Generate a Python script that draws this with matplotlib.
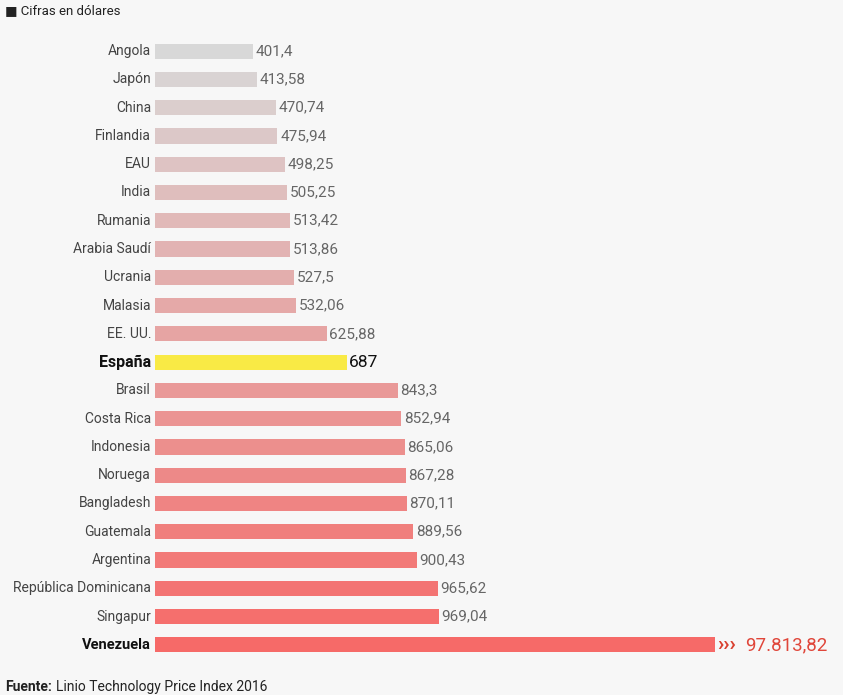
import matplotlib.pyplot as plt
import matplotlib.colors as mcolors
import numpy as np

paises = ["Angola", "Japón", "China", "Finlandia", "EAU", "India", "Rumania",
          "Arabia Saudí", "Ucrania", "Malasia", "EE. UU.", "España", "Brasil",
          "Costa Rica", "Indonesia", "Noruega", "Bangladesh", "Guatemala",
          "Argentina", "República Dominicana", "Singapur", "Venezuela"]
precios = [401.4, 413.58, 470.74, 475.94, 498.25, 505.25, 513.42, 513.86,
           527.5, 532.06, 625.88, 687, 843.3, 852.94, 865.06, 867.28, 870.11,
           889.56, 900.43, 965.62, 969.04, 97813.82]
etiquetas = ["401,4", "413,58", "470,74", "475,94", "498,25", "505,25",
             "513,42", "513,86", "527,5", "532,06", "625,88", "687", "843,3",
             "852,94", "865,06", "867,28", "870,11", "889,56", "900,43",
             "965,62", "969,04", "97.813,82"]

plt.rcParams['font.family'] = ['Roboto', 'DejaVu Sans']

W, H = 843, 695
fig = plt.figure(figsize=(W / 100, H / 100), dpi=100)
fig.patch.set_facecolor("#f7f7f7")

# axes placed in pixel terms: bars start at x=155, clipped at x=715
left, right, top, bottom = 155, 715, 37, 659
ax = fig.add_axes([left / W, 1 - bottom / H, (right - left) / W, (bottom - top) / H])
ax.set_facecolor("none")
base = 102.2
escala = 0.3277  # px per dollar
ax.set_xlim(base, base + (right - left) / escala)
ax.set_ylim(len(paises) - 0.5, -0.5)
ax.axis("off")

c0 = np.array(mcolors.to_rgb("#d8d8d8"))
c1 = np.array(mcolors.to_rgb("#f66a68"))
n = len(paises)
y = np.arange(n)
colores = []
for i, p in enumerate(paises):
    if p == "España":
        colores.append("#f9ea45")
    else:
        t = i / (n - 1)
        colores.append(tuple(c0 + (c1 - c0) * t))

ax.barh(y, [p - base for p in precios], left=base, height=0.54, color=colores)

for i, (p, v, lab) in enumerate(zip(paises, precios, etiquetas)):
    if p == "España":
        ax.text(base - 12, i, p, ha="right", va="center", fontsize=11.5,
                fontweight="bold", color="#111111")
        ax.text(v + 8, i, lab, ha="left", va="center", fontsize=12.5, color="#111111")
    elif p == "Venezuela":
        ax.text(base - 12, i, p, ha="right", va="center", fontsize=10.5,
                fontweight="bold", color="#111111")
        ax.text(1.003, i, "›››", transform=ax.get_yaxis_transform(), ha="left",
                va="center", fontsize=15, fontweight="bold", color="#d9402f",
                clip_on=False)
        ax.text(1.054, i, lab, transform=ax.get_yaxis_transform(), ha="left",
                va="center", fontsize=13.5, color="#e0463a", clip_on=False)
    else:
        ax.text(base - 12, i, p, ha="right", va="center", fontsize=10,
                color="#444444")
        ax.text(v + 8, i, lab, ha="left", va="center", fontsize=11, color="#666666")

fig.text(5 / W, 1 - 11 / H, "■ Cifras en dólares", ha="left", va="center",
         fontsize=9.5, color="#222222")
fig.text(5 / W, 1 - 687 / H, "Fuente:", ha="left", va="center", fontsize=10,
         fontweight="bold", color="#222222")
fig.text(56 / W, 1 - 687 / H, "Linio Technology Price Index 2016", ha="left",
         va="center", fontsize=10, color="#222222")

fig.savefig("out.png", dpi=100, facecolor=fig.get_facecolor())
